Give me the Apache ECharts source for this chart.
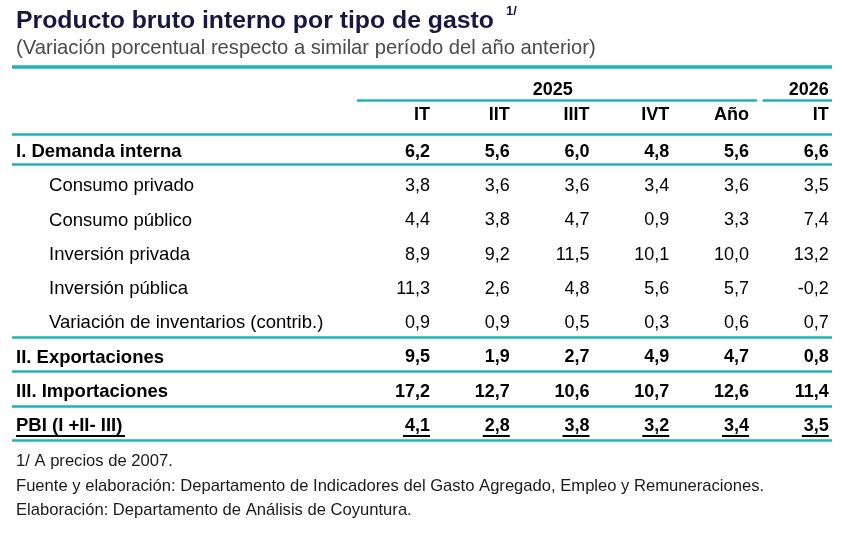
<!DOCTYPE html>
<html>
<head>
<meta charset="utf-8">
<script src="https://cdn.jsdelivr.net/npm/echarts@6/dist/echarts.min.js"></script>
<style>
html, body { margin: 0; padding: 0; background: #fff; }
#tabla { width: 852px; height: 534px; }
</style>
</head>
<body>
<div id="tabla"></div>
<script>
// Datos del cuadro
var years = ['2025', '2026'];
var periods = ['IT', 'IIT', 'IIIT', 'IVT', 'Año', 'IT'];
var rowLabels = [
	'I. Demanda interna',
	'Consumo privado',
	'Consumo público',
	'Inversión privada',
	'Inversión pública',
	'Variación de inventarios (contrib.)',
	'II. Exportaciones',
	'III. Importaciones',
	'PBI (I +II- III)'
];
var demandaInterna   = [6.2, 5.6, 6.0, 4.8, 5.6, 6.6];
var consumoPrivado   = [3.8, 3.6, 3.6, 3.4, 3.6, 3.5];
var consumoPublico   = [4.4, 3.8, 4.7, 0.9, 3.3, 7.4];
var inversionPrivada = [8.9, 9.2, 11.5, 10.1, 10.0, 13.2];
var inversionPublica = [11.3, 2.6, 4.8, 5.6, 5.7, -0.2];
var inventarios      = [0.9, 0.9, 0.5, 0.3, 0.6, 0.7];
var exportaciones    = [9.5, 1.9, 2.7, 4.9, 4.7, 0.8];
var importaciones    = [17.2, 12.7, 10.6, 10.7, 12.6, 11.4];
var pbi              = [4.1, 2.8, 3.8, 3.2, 3.4, 3.5];
var footnotes = [
	'1/ A precios de 2007.',
	'Fuente y elaboración: Departamento de Indicadores del Gasto Agregado, Empleo y Remuneraciones.',
	'Elaboración: Departamento de Análisis de Coyuntura.'
];

var rows = [demandaInterna, consumoPrivado, consumoPublico, inversionPrivada,
	inversionPublica, inventarios, exportaciones, importaciones, pbi];

// estilos por fila
var boldRows = [0, 6, 7, 8];
var indentRows = [1, 2, 3, 4, 5];

var FONT = "'Liberation Sans', Arial, sans-serif";
var TEAL = '#1fb3b3';
var INK = '#000';
var XMIN = -4.24, XMAX = 6.04;
var LABEL_X = -4.19, INDENT_X = -3.775;

function fmt(v){
	return v.toFixed(1).replace('.', ',');
}

var chart = echarts.init(document.getElementById('tabla'), null, {renderer: 'canvas'});

// celdas de valores
var cellData = [];
rows.forEach(function(vals, r){
	var bold = boldRows.indexOf(r) >= 0;
	vals.forEach(function(v, c){
		cellData.push({
			value: [c + 1, r, v],
			label: {fontWeight: bold ? 'bold' : 'normal'}
		});
	});
});

// etiquetas de filas
var labelData = rowLabels.map(function(name, r){
	return {
		name: name,
		value: [indentRows.indexOf(r) >= 0 ? INDENT_X : LABEL_X, r],
		label: {fontWeight: boldRows.indexOf(r) >= 0 ? 'bold' : 'normal'}
	};
});

// encabezados
var headerData = periods.map(function(p, c){
	return {name: p, value: [c + 1, -1.08], label: {align: 'right'}};
});
headerData.push({name: years[0], value: [2.54, -1.81], label: {align: 'center'}});
headerData.push({name: years[1], value: [6, -1.81], label: {align: 'right'}});

// subrayado del PBI
var underlineData = pbi.map(function(v, c){ return [c + 1, rows.length - 1]; });

function hline(y, x1, x2, w){
	return [
		{coord: [x1, y], lineStyle: {width: w, color: TEAL, type: 'solid'}},
		{coord: [x2, y]}
	];
}

function note(text, top){
	return {text: text, left: 16, top: top, padding: 0,
		textStyle: {fontSize: 16.6, fontWeight: 'normal', color: '#1a1a1a', fontFamily: FONT}};
}

var option = {
	animation: false,
	backgroundColor: '#ffffff',
	textStyle: {fontFamily: FONT},
	title: [
		{text: 'Producto bruto interno por tipo de gasto', left: 16, top: 9, padding: 0,
			textStyle: {fontSize: 24.8, fontWeight: 'bold', color: '#17173f', fontFamily: FONT}},
		{text: '1/', left: 506, top: 5, padding: 0,
			textStyle: {fontSize: 13, fontWeight: 'bold', color: '#17173f', fontFamily: FONT}},
		{text: '(Variación porcentual respecto a similar período del año anterior)', left: 16, top: 38, padding: 0,
			textStyle: {fontSize: 20.2, fontWeight: 'normal', color: '#4a4a4a', fontFamily: FONT}},
		note(footnotes[0], 453),
		note(footnotes[1], 478),
		note(footnotes[2], 502)
	],
	grid: {left: 12, right: 20, top: 64.66, bottom: 90.9},
	xAxis: {type: 'value', min: XMIN, max: XMAX, show: false},
	yAxis: {type: 'value', min: -2.55, max: 8.5, inverse: true, show: false},
	series: [
		{
			name: 'valores',
			type: 'scatter',
			symbolSize: 0,
			silent: true,
			itemStyle: {opacity: 1},
			data: cellData,
			label: {
				show: true, position: 'inside', align: 'right',
				fontSize: 18, color: INK, fontFamily: FONT,
				formatter: function(p){ return fmt(p.value[2]); }
			},
			markLine: {
				silent: true,
				symbol: ['none', 'none'],
				label: {show: false},
				data: [
					hline(-2.5, XMIN, XMAX, 3.5),
					hline(-1.52, 0.085, 5.1, 2.5),
					hline(-1.52, 5.17, XMAX, 2.5),
					hline(-0.53, XMIN, XMAX, 2.5),
					hline(0.35, XMIN, XMAX, 2.5),
					hline(5.40, XMIN, XMAX, 2.5),
					hline(6.39, XMIN, XMAX, 2.5),
					hline(7.42, XMIN, XMAX, 2.5),
					hline(8.41, XMIN, XMAX, 2.5)
				]
			}
		},
		{
			name: 'filas',
			type: 'scatter',
			symbolSize: 0,
			silent: true,
			itemStyle: {opacity: 1},
			data: labelData,
			label: {
				show: true, position: 'inside', align: 'left',
				fontSize: 18.5, color: INK, fontFamily: FONT,
				formatter: '{b}'
			}
		},
		{
			name: 'encabezado',
			type: 'scatter',
			symbolSize: 0,
			silent: true,
			itemStyle: {opacity: 1},
			data: headerData,
			label: {
				show: true, position: 'inside',
				fontSize: 18, fontWeight: 'bold', color: INK, fontFamily: FONT,
				formatter: '{b}'
			}
		},
		{
			name: 'subrayado',
			type: 'scatter',
			symbol: 'rect',
			symbolSize: [27, 2],
			symbolOffset: [-13.5, 10],
			silent: true,
			itemStyle: {color: INK, opacity: 1},
			data: underlineData
		},
		{
			name: 'subrayadoEtiqueta',
			type: 'scatter',
			symbol: 'rect',
			symbolSize: [109, 2],
			symbolOffset: [54.5, 10],
			silent: true,
			itemStyle: {color: INK, opacity: 1},
			data: [[LABEL_X, rows.length - 1]]
		}
	]
};
chart.setOption(option);
</script>
</body>
</html>
